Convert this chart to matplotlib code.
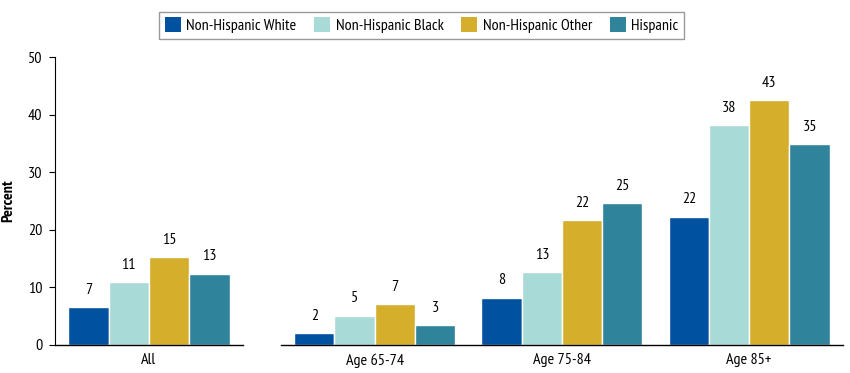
import numpy as np
import matplotlib.pyplot as plt
from matplotlib.patches import Patch

plt.rcParams['font.family'] = ['PT Sans Narrow', 'Roboto Condensed', 'Fira Sans Condensed',
                               'Archivo Narrow', 'DejaVu Sans']

# --- Data ---
series = ["Non-Hispanic White", "Non-Hispanic Black", "Non-Hispanic Other", "Hispanic"]
colors = ["#0052A0", "#A8DBD8", "#D5AF2C", "#2F849B"]
groups_all = ["All"]
groups_age = ["Age 65-74", "Age 75-84", "Age 85+"]
all_vals = [6.6, 10.9, 15.2, 12.4]
age_vals = [
    [2.0, 8.2, 22.3],    # Non-Hispanic White
    [5.1, 12.6, 38.2],   # Non-Hispanic Black
    [7.1, 21.7, 42.5],   # Non-Hispanic Other
    [3.4, 24.6, 34.9],   # Hispanic
]
all_labels = ["7", "11", "15", "13"]
age_labels = [
    ["2", "8", "22"],
    ["5", "13", "38"],
    ["7", "22", "43"],
    ["3", "25", "35"],
]

# --- Figure ---
fig = plt.figure(figsize=(8.5, 3.73), dpi=100)
ax1 = fig.add_axes([0.0647, 0.0751, 0.221, 0.772])
ax2 = fig.add_axes([0.3306, 0.0751, 0.661, 0.772])

bw = 0.215
offsets = (np.arange(4) - 1.5) * bw


def draw(ax, x, vals, labels, series_idx):
    bars = ax.bar(x + offsets[series_idx], vals, bw, color=colors[series_idx],
                  edgecolor="white", linewidth=1.0)
    for b, lab in zip(bars, labels):
        ax.annotate(lab, (b.get_x() + b.get_width() / 2, b.get_height()),
                    xytext=(0, 7.5), textcoords="offset points",
                    ha="center", va="bottom", fontsize=11.5)


x1 = np.arange(len(groups_all))
x2 = np.arange(len(groups_age))
for i in range(4):
    draw(ax1, x1, [all_vals[i]], [all_labels[i]], i)
    draw(ax2, x2, age_vals[i], age_labels[i], i)

for ax in (ax1, ax2):
    ax.set_ylim(0, 50)
    for s in ("top", "right"):
        ax.spines[s].set_visible(False)
    ax.spines["bottom"].set_linewidth(1.0)
    ax.tick_params(axis="x", length=0, labelsize=11.5, pad=6)

ax1.set_xlim(-0.5, 0.5)
ax2.set_xlim(-0.5, 2.5)
ax1.set_xticks(x1, groups_all)
ax2.set_xticks(x2, groups_age)

ax1.set_yticks(range(0, 51, 10))
ax1.tick_params(axis="y", length=4, labelsize=11.5, pad=5)
ax1.set_ylabel("Percent", fontsize=11.5, fontweight="bold", labelpad=9)

ax2.spines["left"].set_visible(False)
ax2.set_yticks([])

handles = [Patch(facecolor=c, edgecolor="none") for c in colors]
fig.legend(handles, series, loc="upper center", bbox_to_anchor=(0.496, 0.99),
           ncol=4, fontsize=11.5, frameon=True, fancybox=False,
           edgecolor="#808080", handlelength=1.0, handleheight=1.0,
           columnspacing=1.1, borderpad=0.35, handletextpad=0.35)

fig.savefig("out.png", dpi=100)
